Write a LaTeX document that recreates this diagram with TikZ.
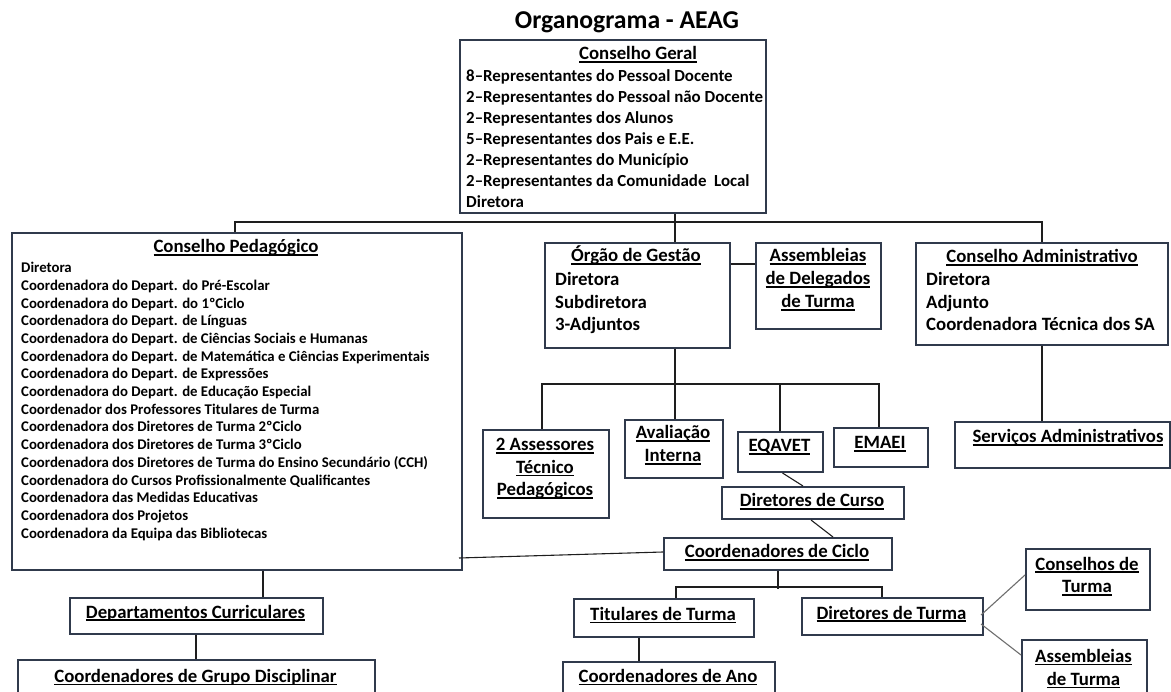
\documentclass[tikz,border=0pt]{standalone}
\usepackage{fontspec}
\setmainfont{Carlito}
\usetikzlibrary{calc}
\definecolor{boxc}{RGB}{48,58,76}
\definecolor{linec}{RGB}{30,30,30}
\definecolor{greyline}{RGB}{110,110,110}
\newcommand\myul[1]{\setbox0\hbox{#1}\rlap{\rule[-2.6pt]{\wd0}{1.1pt}}\box0}
\newcommand\mkbox[5]{\node[boxst, minimum width={(#4-#2)*1pt}, minimum height={(#5-#3)*1pt}] (#1) at (#2,#3) {};}
\tikzset{
  boxst/.style={draw=boxc, line width=2pt, inner sep=0pt, anchor=north west},
  conn/.style={draw=linec, line width=1.1pt},
  gconn/.style={draw=greyline, line width=1.1pt},
  ctr/.style={inner sep=0pt, anchor=base, font=\bfseries\fontsize{18.8}{22}\selectfont},
  lft/.style={inner sep=0pt, anchor=base west, font=\bfseries\fontsize{18.8}{22}\selectfont},
  small/.style={inner sep=0pt, anchor=base west, font=\bfseries\fontsize{14.8}{17}\selectfont},
  mid/.style={inner sep=0pt, anchor=base west, font=\bfseries\fontsize{16.9}{20}\selectfont}
}
\begin{document}
\begin{tikzpicture}[x=1pt,y=-1pt]
\useasboundingbox (0,0) rectangle (1171,692);

% title
\node[inner sep=0pt, anchor=base, font=\bfseries\fontsize{25.7}{30}\selectfont] (title) at (627,29) {Organograma - AEAG};

% boxes
\mkbox{CG}{459}{39}{765}{212}
\mkbox{CP}{11}{232}{461}{569}
\mkbox{OG}{544}{242}{729}{347}
\mkbox{ADT}{755}{242}{880}{328}
\mkbox{CA}{915}{242}{1167}{344}
\mkbox{SA}{954}{421}{1169}{467}
\mkbox{AS}{482}{429}{608}{517}
\mkbox{AI}{624}{419}{722}{477}
\mkbox{EQ}{737}{431}{822}{471}
\mkbox{EM}{833}{427}{927}{466}
\mkbox{DC}{721}{486}{903}{518}
\mkbox{CC}{663}{537}{891}{569}
\mkbox{TT}{573}{598}{753}{636}
\mkbox{DT}{801}{597}{982}{634}
\mkbox{CAn}{562}{661}{774}{705}
\mkbox{CT}{1025}{548}{1149}{609}
\mkbox{AT}{1021}{639}{1146}{705}
\mkbox{DCu}{69}{597}{322}{633}
\mkbox{CGD}{17}{659}{374}{705}

% Conselho Geral
\node[ctr] (cgT) at (638,60) {\myul{Conselho Geral}};
\foreach \t [count=\i] in {8–Representantes do Pessoal Docente,
  2–Representantes do Pessoal não Docente,
  2–Representantes dos Alunos,
  5–Representantes dos Pais e E.E.,
  2–Representantes do Município,
  2–Representantes da Comunidade\ \ Local,
  Diretora}
  \node[mid] (cg\i) at (466,{82+21*(\i-1)}) {\t};

% Conselho Pedagogico
\node[ctr] (cpT) at (236,253) {\myul{Conselho Pedagógico}};
\foreach \t [count=\i] in {Diretora,
  Coordenadora do Depart. do Pré-Escolar,
  Coordenadora do Depart. do 1ºCiclo,
  Coordenadora do Depart. de Línguas,
  Coordenadora do Depart. de Ciências Sociais e Humanas,
  Coordenadora do Depart. de Matemática e Ciências Experimentais,
  Coordenadora do Depart. de Expressões,
  Coordenadora do Depart. de Educação Especial,
  Coordenador dos Professores Titulares de Turma,
  Coordenadora dos Diretores de Turma 2ºCiclo,
  Coordenadora dos Diretores de Turma 3ºCiclo,
  Coordenadora dos Diretores de Turma do Ensino Secundário (CCH),
  Coordenadora do Cursos Profissionalmente Qualificantes,
  Coordenadora das Medidas Educativas,
  Coordenadora dos Projetos,
  Coordenadora da Equipa das Bibliotecas}
  \node[small] (cp\i) at (21,{272.7+17.7*(\i-1)}) {\t};

% Orgao de Gestao
\node[ctr] (ogT) at (636,262) {\myul{Órgão de Gestão}};
\node[lft] (og1) at (555,286) {Diretora};
\node[lft] (og2) at (555,308.5) {Subdiretora};
\node[lft] (og3) at (555,331) {3-Adjuntos};

% Assembleias de Delegados
\node[ctr] (adt1) at (818,262) {\myul{Assembleias}};
\node[ctr] (adt2) at (818,285) {\myul{de Delegados}};
\node[ctr] (adt3) at (818,308) {\myul{de Turma}};

% Conselho Administrativo
\node[ctr] (caT) at (1042,263) {\myul{Conselho Administrativo}};
\node[lft] (ca1) at (926,286) {Diretora};
\node[lft] (ca2) at (926,308.5) {Adjunto};
\node[lft] (ca3) at (926,331) {Coordenadora Técnica dos SA};

\node[ctr] (saT) at (1068,443) {\myul{Serviços Administrativos}};

% second row
\node[ctr] (as1) at (545,451) {\myul{2 Assessores}};
\node[ctr] (as2) at (545,473.5) {\myul{Técnico}};
\node[ctr] (as3) at (545,496) {\myul{Pedagógicos}};
\node[ctr] (ai1) at (673,439) {\myul{Avaliação}};
\node[ctr] (ai2) at (673,462) {\myul{Interna}};
\node[ctr] (eqT) at (779.5,452) {\myul{EQAVET}};
\node[ctr] (emT) at (880,449) {\myul{EMAEI}};
\node[ctr] (dcT) at (812,507) {\myul{Diretores de Curso}};
\node[ctr] (ccT) at (777,558) {\myul{Coordenadores de Ciclo}};
\node[ctr] (ttT) at (663,620) {\myul{Titulares de Turma}};
\node[ctr] (dtT) at (891.5,619) {\myul{Diretores de Turma}};
\node[ctr] (canT) at (668,682) {\myul{Coordenadores de Ano}};
\node[ctr] (ct1) at (1087,570) {\myul{Conselhos de}};
\node[ctr] (ct2) at (1087,593) {\myul{Turma}};
\node[ctr] (at1) at (1083.5,662) {\myul{Assembleias}};
\node[ctr] (at2) at (1083.5,685) {\myul{de Turma}};
\node[ctr] (dcuT) at (195.5,618) {\myul{Departamentos Curriculares}};
\node[ctr] (cgdT) at (195.5,682) {\myul{Coordenadores de Grupo Disciplinar}};

% connectors: top bus
\coordinate (b1) at (675,222);
\coordinate (bL) at (235,222);
\coordinate (bR) at (1042,222);
\draw[conn] (b1 |- CG.south) -- (b1 |- OG.north);
\draw[conn] (bL |- CP.north) -- (bL) -- (bR) -- (bR |- CA.north);

% OG to ADT
\coordinate (k1) at (0,264);
\draw[conn] (OG.east |- k1) -- (ADT.west |- k1);

% CA to SA
\draw[conn] (CA.south) -- (CA.south |- SA.north);

% OG bus
\coordinate (m1) at (675,384);
\coordinate (mL) at (542,384);
\coordinate (mR) at (879,384);
\coordinate (mE) at (780,384);
\draw[conn] (m1 |- OG.south) -- (m1 |- AI.north);
\draw[conn] (mL |- AS.north) -- (mL) -- (mR) -- (mR |- EM.north);
\draw[conn] (mE) -- (mE |- EQ.north);

% EQAVET -> DC -> CC
\draw[conn] ($(EQ.south)+(2,0)$) -- ($(DC.north)+(-10,0)$);
\draw[conn] ($(DC.south)+(-2,0)$) -- ($(CC.north)+(55,0)$);

% CP -> CC
\draw[conn] ($(CP.south east)+(-4,-13)$) -- ($(CC.west)+(0,-2)$);

% CC bus
\coordinate (c1) at (778,589);
\coordinate (cL) at (676,587);
\coordinate (cR) at (882,587);
\draw[conn] (c1 |- CC.south) -- (c1);
\draw[conn] (cL |- TT.north) -- (cL) -- (cR) -- (cR |- DT.north);

% TT -> CAn
\coordinate (t1) at (639,0);
\draw[conn] (t1 |- TT.south) -- (t1 |- CAn.north);

% DT -> CT, AT
\draw[gconn] ($(DT.east)+(-3,-1.5)$) -- ($(CT.west)+(0,-4.5)$);
\draw[gconn] ($(DT.east)+(-3,7.5)$) -- ($(AT.west)+(0,-18)$);

% CP -> DCu -> CGD
\coordinate (d1) at (263,0);
\coordinate (d2) at (196,0);
\draw[conn] (d1 |- CP.south) -- (d1 |- DCu.north);
\draw[conn] (d2 |- DCu.south) -- (d2 |- CGD.north);
\end{tikzpicture}
\end{document}
